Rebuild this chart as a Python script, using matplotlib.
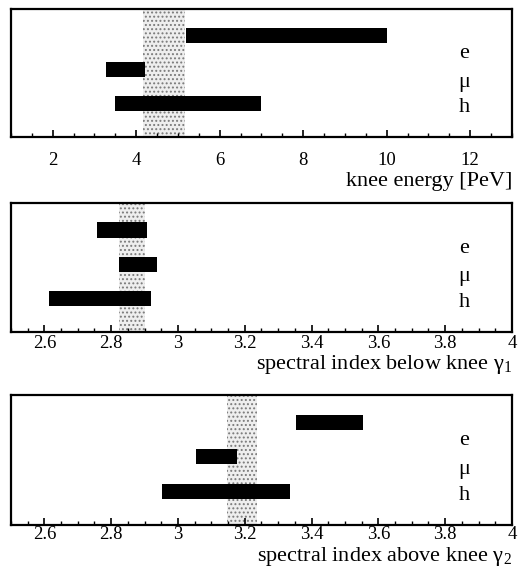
import matplotlib
matplotlib.use("Agg")
import matplotlib.pyplot as plt
from matplotlib.ticker import MultipleLocator, FuncFormatter

plt.rcParams['font.family'] = ['Liberation Serif', 'DejaVu Serif']
plt.rcParams['mathtext.fontset'] = 'custom'
plt.rcParams['mathtext.rm'] = 'Liberation Serif'
plt.rcParams['mathtext.it'] = 'Liberation Serif:italic'
plt.rcParams['hatch.linewidth'] = 0.9

particles = ['e', 'μ', 'h']
particle_pos = [3, 2, 1]

# knee energy [PeV]
knee_lo = [5.2, 3.27, 3.5]
knee_hi = [10.0, 4.2, 7.0]
knee_band = (4.17, 5.17)

# spectral index below knee
g1_lo = [2.757, 2.824, 2.615]
g1_hi = [2.908, 2.936, 2.919]
g1_band = (2.823, 2.90)

# spectral index above knee
g2_lo = [3.353, 3.053, 2.951]
g2_hi = [3.555, 3.176, 3.335]
g2_band = (3.146, 3.236)

panels = [
    dict(lo=knee_lo, hi=knee_hi, band=knee_band, xlim=(1, 13), major=2, minor=0.5,
         label='knee energy [PeV]', rect=[0.0208, 0.7654, 0.947, 0.219], pad=11, lab_y=-0.27),
    dict(lo=g1_lo, hi=g1_hi, band=g1_band, xlim=(2.5, 4.0), major=0.2, minor=0.05,
         label='spectral index below knee γ$_1$', rect=[0.0208, 0.4315, 0.947, 0.221], pad=2, lab_y=-0.165),
    dict(lo=g2_lo, hi=g2_hi, band=g2_band, xlim=(2.5, 4.0), major=0.2, minor=0.05,
         label='spectral index above knee γ$_2$', rect=[0.0208, 0.101, 0.947, 0.2226], pad=1, lab_y=-0.155),
]

label_y = [0.65, 0.43, 0.23]

fig = plt.figure(figsize=(5.29, 5.84), dpi=100)
for p in panels:
    ax = fig.add_axes(p['rect'])
    ax.axvspan(p['band'][0], p['band'][1], facecolor='#eeeeee', edgecolor='#7a7a7a',
               hatch='....', linewidth=0, zorder=1)
    widths = [h - l for l, h in zip(p['lo'], p['hi'])]
    ax.barh(particle_pos, widths, left=p['lo'], height=0.44, color='black', zorder=2)
    ax.set_xlim(*p['xlim'])
    ax.set_ylim(0.02, 3.79)
    ax.set_yticks([])
    ax.xaxis.set_major_locator(MultipleLocator(p['major']))
    ax.xaxis.set_minor_locator(MultipleLocator(p['minor']))
    ax.xaxis.set_major_formatter(FuncFormatter(lambda v, pos: '%g' % round(v, 3)))
    ax.tick_params(axis='x', which='major', direction='in', length=5, width=1.2,
                   labelsize=13.5, pad=p['pad'])
    ax.tick_params(axis='x', which='minor', direction='in', length=3, width=1.0)
    for s in ax.spines.values():
        s.set_linewidth(1.6)
    for name, yy in zip(particles, label_y):
        ax.text(0.905, yy, name, transform=ax.transAxes, ha='center', va='center', fontsize=16)
    ax.text(1.0, p['lab_y'], p['label'], transform=ax.transAxes, ha='right', va='top', fontsize=16)

fig.savefig('out.png', dpi=100)
